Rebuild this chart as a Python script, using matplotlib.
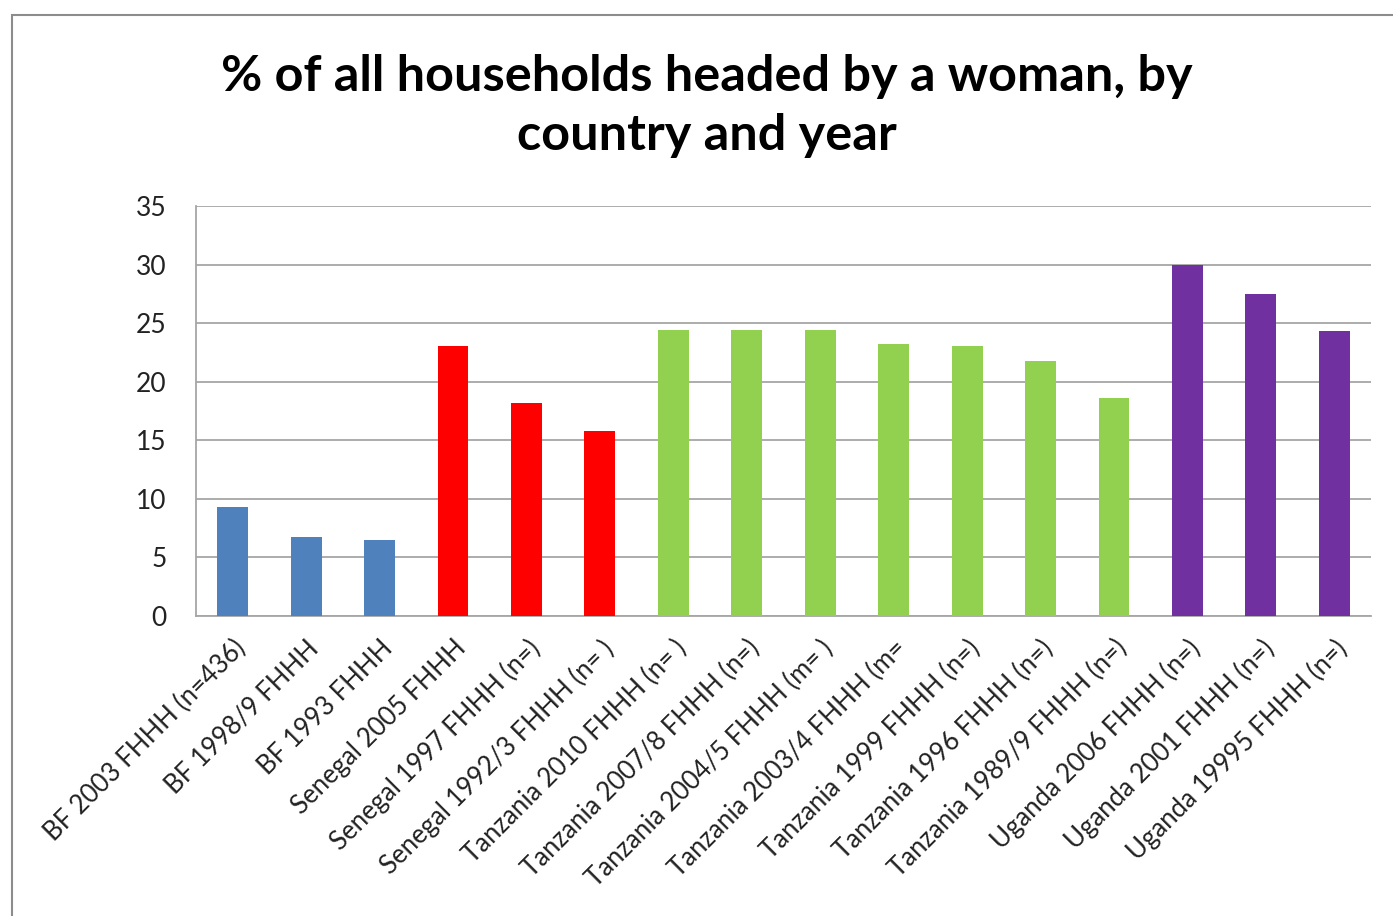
import matplotlib
matplotlib.use("Agg")
import matplotlib.pyplot as plt
from matplotlib.patches import Rectangle

# ====== DATA ======
labels = [
    "BF 2003 FHHH (n=436)", "BF 1998/9 FHHH", "BF 1993 FHHH",
    "Senegal 2005 FHHH", "Senegal 1997 FHHH (n=)", "Senegal 1992/3 FHHH (n= )",
    "Tanzania 2010 FHHH (n= )", "Tanzania 2007/8 FHHH (n=)", "Tanzania 2004/5 FHHH (m= )",
    "Tanzania 2003/4 FHHH (m=", "Tanzania 1999 FHHH (n=)", "Tanzania 1996 FHHH (n=)",
    "Tanzania 1989/9 FHHH (n=)", "Uganda 2006 FHHH (n=)", "Uganda 2001 FHHH (n=)",
    "Uganda 19995 FHHH (n=)",
]
values = [9.3, 6.75, 6.5, 23.05, 18.2, 15.8, 24.4, 24.4, 24.4, 23.2, 23.05, 21.8, 18.6, 30.0, 27.5, 24.3]
country = ["BF"] * 3 + ["Senegal"] * 3 + ["Tanzania"] * 7 + ["Uganda"] * 3
colours = {"BF": "#4f81bd", "Senegal": "#ff0000", "Tanzania": "#92d050", "Uganda": "#7030a0"}

plt.rcParams["font.family"] = ["Lato", "DejaVu Sans"]

fig = plt.figure(figsize=(13.93, 9.16), dpi=100)
ax = fig.add_axes([196 / 1393, 1 - 616 / 916, 1175 / 1393, 410 / 916])

# outer chart frame (only left and top visible in the crop)
fig.patches.append(Rectangle((12 / 1393, -0.1), 1.2, 1 - 15 / 916 + 0.1,
                             transform=fig.transFigure, fill=False,
                             edgecolor="#8c8c8c", linewidth=1.5))

x = range(len(values))
ax.bar(x, values, width=0.42, color=[colours[c] for c in country], zorder=3)

ax.set_xlim(-0.5, len(values) - 0.5)
ax.set_ylim(0, 35)
ax.set_yticks(range(0, 36, 5))
ax.yaxis.grid(True, color="#a6a6a6", linewidth=1.3, zorder=0)
ax.set_axisbelow(True)
for s in ["top", "right"]:
    ax.spines[s].set_visible(False)
ax.spines["left"].set_color("#a6a6a6")
ax.spines["bottom"].set_color("#a6a6a6")
ax.spines["left"].set_linewidth(1.3)
ax.spines["bottom"].set_linewidth(1.3)
ax.tick_params(axis="y", length=0, labelsize=19, pad=21, colors="#222222")
ax.tick_params(axis="x", length=0, pad=14)
ax.set_xticks(list(x))
ax.set_xticklabels(labels, rotation=45, ha="right", rotation_mode="anchor",
                   fontsize=18.5, color="#222222")

fig.text(707 / 1393, 1 - 106 / 916,
         "% of all households headed by a woman, by\ncountry and year",
         ha="center", va="center", fontsize=36.3, fontweight="bold",
         linespacing=1.38)

fig.savefig("out.png", dpi=100)
